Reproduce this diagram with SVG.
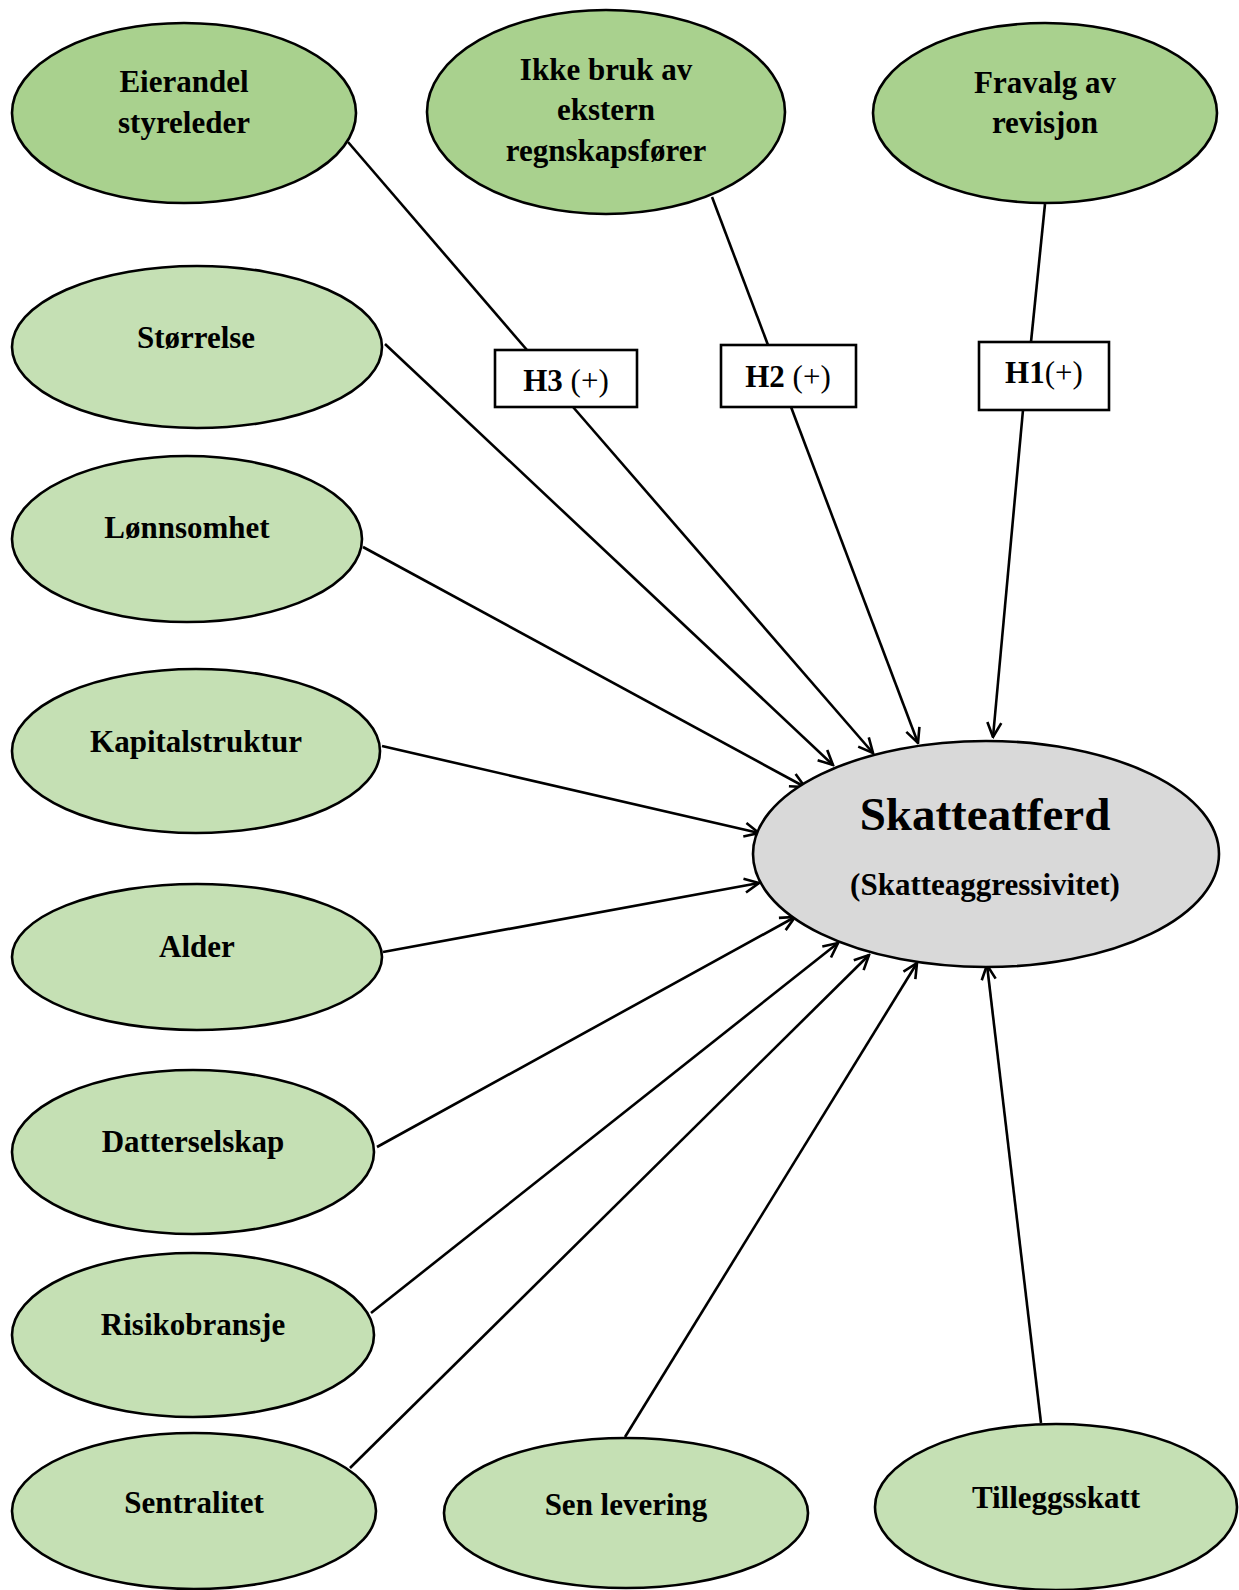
<svg xmlns="http://www.w3.org/2000/svg" width="1239" height="1590" viewBox="0 0 1239 1590">
<style>
.n ellipse{stroke:#000;stroke-width:2.6}
.dark{fill:#A9D18E}
.light{fill:#C5E0B4}
.grey{fill:#D9D9D9}
text{font-family:"Liberation Serif","Times New Roman",serif;font-weight:bold;font-size:31px;fill:#000;text-anchor:middle}
.reg{font-weight:normal}
.box{fill:#fff;stroke:#000;stroke-width:2.6}
.c line{stroke:#000;stroke-width:2.6;fill:none}
</style>
<defs>
<marker id="arr" viewBox="0 0 18 18" refX="16.5" refY="9" markerWidth="18" markerHeight="18" markerUnits="userSpaceOnUse" orient="auto">
<path d="M2,2 L16.5,9 L2,16" fill="none" stroke="#000" stroke-width="2.6"/>
</marker>
</defs>
<g class="c" id="connectors">
<line x1="348" y1="142" x2="527" y2="350"/>
<line x1="573" y1="407" x2="873" y2="753" marker-end="url(#arr)"/>
<line x1="712" y1="197" x2="768" y2="345"/>
<line x1="791" y1="407" x2="918" y2="743" marker-end="url(#arr)"/>
<line x1="1045" y1="204" x2="1031" y2="342"/>
<line x1="1023" y1="410" x2="993" y2="737" marker-end="url(#arr)"/>
<line x1="385" y1="344" x2="833" y2="765" marker-end="url(#arr)"/>
<line x1="363" y1="547" x2="805" y2="787" marker-end="url(#arr)"/>
<line x1="382" y1="746" x2="759" y2="833" marker-end="url(#arr)"/>
<line x1="383" y1="952" x2="759" y2="883" marker-end="url(#arr)"/>
<line x1="377" y1="1147" x2="795" y2="917" marker-end="url(#arr)"/>
<line x1="371" y1="1313" x2="838" y2="943" marker-end="url(#arr)"/>
<line x1="350" y1="1468" x2="869" y2="955" marker-end="url(#arr)"/>
<line x1="625" y1="1437" x2="917" y2="963" marker-end="url(#arr)"/>
<line x1="1041" y1="1423" x2="987" y2="965" marker-end="url(#arr)"/>
</g>
<g class="n" id="eierandel"><ellipse class="dark" cx="184" cy="113" rx="172" ry="90"/><text x="184" y="92">Eierandel</text><text x="184" y="133">styreleder</text></g>
<g class="n" id="ikke"><ellipse class="dark" cx="606" cy="112" rx="179" ry="102"/><text x="606" y="80">Ikke bruk av</text><text x="606" y="120">ekstern</text><text x="606" y="161">regnskapsfører</text></g>
<g class="n" id="fravalg"><ellipse class="dark" cx="1045" cy="113" rx="172" ry="90"/><text x="1045" y="93">Fravalg av</text><text x="1045" y="133">revisjon</text></g>
<g id="h3"><rect class="box" x="495" y="350" width="142" height="57"/><text x="566" y="391">H3 <tspan class="reg">(+)</tspan></text></g>
<g id="h2"><rect class="box" x="721" y="345" width="135" height="62"/><text x="788" y="387">H2 <tspan class="reg">(+)</tspan></text></g>
<g id="h1"><rect class="box" x="979" y="342" width="130" height="68"/><text x="1044" y="383">H1<tspan class="reg">(+)</tspan></text></g>
<g class="n" id="storrelse"><ellipse class="light" cx="197" cy="347" rx="185" ry="81"/><text x="196" y="348">Størrelse</text></g>
<g class="n" id="lonnsomhet"><ellipse class="light" cx="187" cy="539" rx="175" ry="83"/><text x="187" y="538">Lønnsomhet</text></g>
<g class="n" id="kapital"><ellipse class="light" cx="196" cy="751" rx="184" ry="82"/><text x="196" y="752">Kapitalstruktur</text></g>
<g class="n" id="alder"><ellipse class="light" cx="197" cy="957" rx="185" ry="73"/><text x="197" y="957">Alder</text></g>
<g class="n" id="datter"><ellipse class="light" cx="193" cy="1152" rx="181" ry="82"/><text x="193" y="1152">Datterselskap</text></g>
<g class="n" id="risiko"><ellipse class="light" cx="193" cy="1335" rx="181" ry="82"/><text x="193" y="1335">Risikobransje</text></g>
<g class="n" id="sentralitet"><ellipse class="light" cx="194" cy="1511" rx="182" ry="78"/><text x="194" y="1513">Sentralitet</text></g>
<g class="n" id="senlevering"><ellipse class="light" cx="626" cy="1513" rx="182" ry="75"/><text x="626" y="1515">Sen levering</text></g>
<g class="n" id="tillegg"><ellipse class="light" cx="1056" cy="1507" rx="181" ry="83"/><text x="1056" y="1508">Tilleggsskatt</text></g>
<g class="n" id="skatteatferd"><ellipse class="grey" cx="986" cy="854" rx="233" ry="113"/><text x="985" y="830" style="font-size:47px">Skatteatferd</text><text x="985" y="895">(Skatteaggressivitet)</text></g>
</svg>
